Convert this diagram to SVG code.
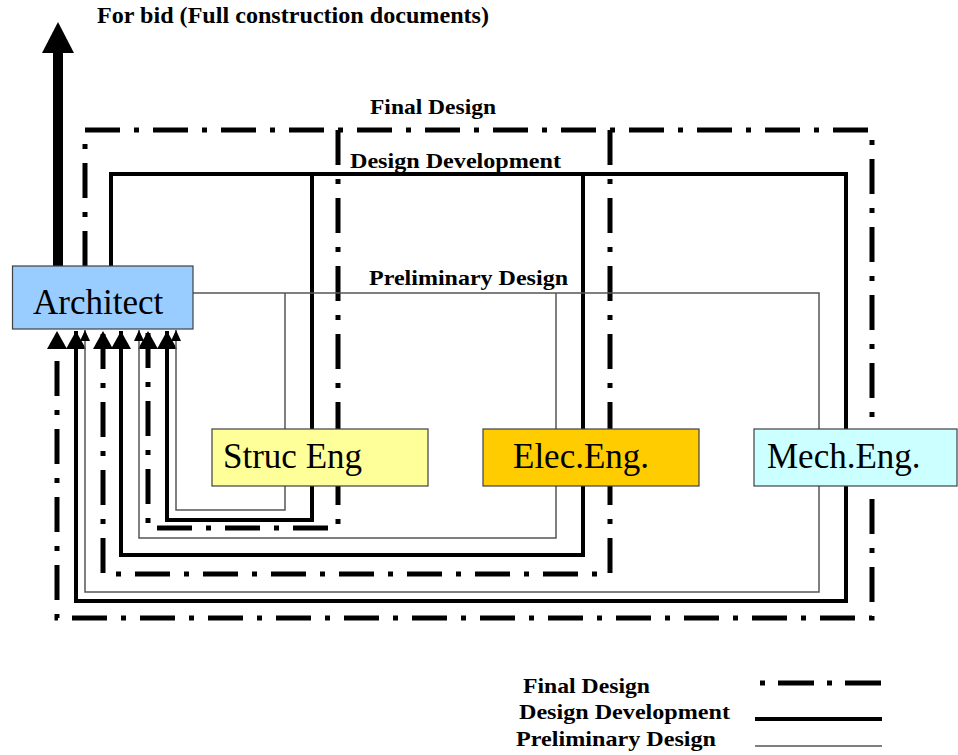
<svg xmlns="http://www.w3.org/2000/svg" width="958" height="755" viewBox="0 0 958 755">
<style>
.fd{fill:none;stroke:#000;stroke-width:5;stroke-dasharray:35 14 5 14;stroke-linecap:butt;stroke-linejoin:miter}
.dd{fill:none;stroke:#000;stroke-width:4;stroke-linejoin:miter}
.pd{fill:none;stroke:#555;stroke-width:1.5;stroke-linejoin:miter}
.box{stroke:#404040;stroke-width:1.2}
.nt{font-family:"Liberation Serif","Times New Roman",serif;font-size:35px;fill:#000}
.lb{font-family:"Liberation Serif","Times New Roman",serif;font-weight:bold;fill:#000}
</style>
<defs>
<marker id="ab" markerUnits="userSpaceOnUse" markerWidth="20" markerHeight="20" viewBox="0 0 20 20" refX="18" refY="10" orient="auto">
<path d="M0,0 L18,10 L0,20 Z" fill="#000"/>
</marker>
<marker id="as" markerUnits="userSpaceOnUse" markerWidth="12" markerHeight="12" viewBox="0 0 12 12" refX="11" refY="6" orient="auto">
<path d="M0,1 L11,6 L0,11 Z" fill="#000"/>
</marker>
</defs>
<rect width="958" height="755" fill="#fff"/>
<g id="connectors">
<line x1="58" y1="266" x2="58" y2="50" stroke="#000" stroke-width="10"/>
<polygon points="42,53 74,53 58,22" fill="#000"/>
<path class="fd" d="M85,266 V130 H872 V618 H57 V331" marker-end="url(#ab)"/>
<path class="fd" d="M338,130 V528 H148 V331" marker-end="url(#ab)"/>
<path class="fd" d="M610,130 V574 H103 V331" marker-end="url(#ab)"/>
<path class="dd" d="M111,266 V174 H846 V601 H76 V331" marker-end="url(#ab)"/>
<path class="dd" d="M312,174 V520 H167 V331" marker-end="url(#ab)"/>
<path class="dd" d="M583,174 V555 H121 V331" marker-end="url(#ab)"/>
<path class="pd" d="M193,293 H819 V592 H85 V330" marker-end="url(#as)"/>
<path class="pd" d="M285,293 V510 H176 V330" marker-end="url(#as)"/>
<path class="pd" d="M556,293 V538 H139 V330" marker-end="url(#as)"/>
</g>
<g id="architect">
<rect class="box" x="12.5" y="266" width="180.5" height="63" fill="#99ccff"/>
<text class="nt" x="33" y="314">Architect</text>
</g>
<g id="struc">
<rect class="box" x="212" y="429" width="216" height="57" fill="#ffff99"/>
<text class="nt" x="223" y="468">Struc Eng</text>
</g>
<g id="elec">
<rect class="box" x="483" y="429" width="216" height="57" fill="#ffcc00"/>
<text class="nt" x="513" y="468">Elec.Eng.</text>
</g>
<g id="mech">
<rect class="box" x="754" y="429" width="203" height="57" fill="#ccffff"/>
<text class="nt" x="767" y="468">Mech.Eng.</text>
</g>
<g id="labels">
<text class="lb" x="97" y="23" font-size="24" textLength="392" lengthAdjust="spacingAndGlyphs">For bid (Full construction documents)</text>
<text class="lb" x="370" y="114" font-size="21" textLength="126" lengthAdjust="spacingAndGlyphs">Final Design</text>
<text class="lb" x="350" y="168" font-size="22" textLength="211" lengthAdjust="spacingAndGlyphs">Design Development</text>
<text class="lb" x="369" y="285" font-size="22" textLength="199" lengthAdjust="spacingAndGlyphs">Preliminary Design</text>
</g>
<g id="legend">
<text class="lb" x="523" y="693" font-size="21" textLength="127" lengthAdjust="spacingAndGlyphs">Final Design</text>
<text class="lb" x="519" y="719" font-size="21" textLength="211" lengthAdjust="spacingAndGlyphs">Design Development</text>
<text class="lb" x="516" y="746" font-size="21" textLength="200" lengthAdjust="spacingAndGlyphs">Preliminary Design</text>
<line class="fd" x1="760" y1="683" x2="882" y2="683" style="stroke-dasharray:5 13 36 13"/>
<line class="dd" x1="755" y1="719" x2="882" y2="719"/>
<line class="pd" x1="755" y1="746" x2="882" y2="746"/>
</g>
</svg>
